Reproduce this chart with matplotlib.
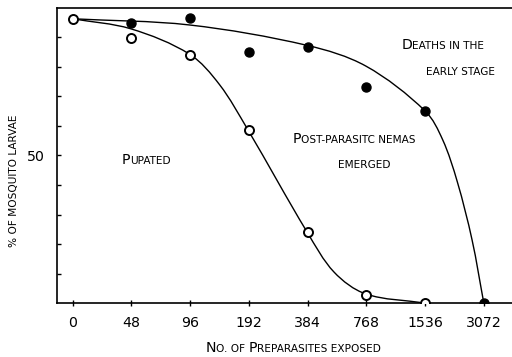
import matplotlib
matplotlib.use("Agg")
import matplotlib.pyplot as plt
import numpy as np
from matplotlib.offsetbox import TextArea, HPacker, AnnotationBbox
from matplotlib.path import Path
from matplotlib.patches import PathPatch

plt.rcParams['font.family'] = ['Liberation Sans Narrow', 'DejaVu Sans']

# categories on the x axis (equally spaced, doubling doses)
doses = ['0', '48', '96', '192', '384', '768', '1536', '3072']

# open circles: larvae that pupated (%)
pupated_x = [0, 1, 2, 3, 4, 5, 6]
pupated = [96.3, 89.8, 84.1, 58.6, 24.1, 2.7, 0.0]

# filled circles: boundary of deaths in the early stage (%)
deaths_x = [1, 2, 3, 4, 5, 6, 7]
deaths = [94.9, 96.6, 85.1, 86.8, 73.2, 65.1, 0.0]

# knots of the hand-drawn fitted curves
upper_cx = [0, 1.99, 3.99, 4.99, 6.0, 6.30, 6.55, 6.80, 7.0]
upper_cy = [96.3, 94.2, 87.3, 80.3, 65.1, 55.3, 41.0, 21.4, 0.0]
lower_cx = [0, 0.99, 1.99, 2.50, 2.98, 3.99, 4.45, 4.99, 6.0]
lower_cy = [96.3, 92.9, 84.3, 74.0, 58.8, 24.1, 10.5, 3.1, 0.0]

BIG, SMALL = 10.2, 7.6


def smooth_path(xs, ys, sx, sy):
    # chord-length Catmull-Rom knots -> cubic Bezier segments (in screen-like units)
    s = np.array([sx, sy])
    p = np.column_stack([xs, ys]).astype(float) * s
    d = np.linalg.norm(np.diff(p, axis=0), axis=1)
    n = len(p)
    m = np.zeros_like(p)
    m[0] = (p[1] - p[0]) / d[0]
    m[-1] = (p[-1] - p[-2]) / d[-1]
    for i in range(1, n - 1):
        m[i] = (p[i + 1] - p[i - 1]) / (d[i - 1] + d[i])
    verts, codes = [p[0]], [Path.MOVETO]
    for i in range(n - 1):
        verts += [p[i] + m[i] * d[i] / 3, p[i + 1] - m[i + 1] * d[i] / 3, p[i + 1]]
        codes += [Path.CURVE4] * 3
    return Path(np.array(verts) / s, codes)


def smallcaps(s, big=BIG, small=SMALL):
    # uppercase chars in s -> full capitals, everything else -> small capitals
    parts = []
    run, is_up = '', None
    for ch in s:
        up = ch.isupper()
        if is_up is None or up == is_up:
            run += ch
        else:
            parts.append((run, is_up))
            run = ch
        is_up = up
    parts.append((run, is_up))
    kids = [TextArea(t.upper(), textprops=dict(fontsize=big if u else small, color='black'))
            for t, u in parts]
    return HPacker(children=kids, align='baseline', pad=0, sep=0)


def label(ax, s, xy, coords='data', align=(0, 0.5)):
    ab = AnnotationBbox(smallcaps(s), xy, xycoords=coords, box_alignment=align,
                        frameon=False, pad=0)
    ax.add_artist(ab)


fig = plt.figure(figsize=(5.12, 3.57), dpi=100)
ax = fig.add_axes([0.111, 0.151, 0.889, 0.827])
ax.set_xlim(-0.27, 7.48)
ax.set_ylim(0, 100)

bb = ax.get_window_extent()
sx = bb.width / (7.48 + 0.27)
sy = bb.height / 100
for cx, cy in ((upper_cx, upper_cy), (lower_cx, lower_cy)):
    ax.add_patch(PathPatch(smooth_path(cx, cy, sx, sy), fc='none', ec='black',
                           lw=1.0, zorder=2))
ax.plot(deaths_x, deaths, 'o', color='black', ms=6.5, zorder=3)
ax.plot(pupated_x, pupated, 'o', mfc='white', mec='black', mew=1.4, ms=6.5, zorder=4)

ax.set_xticks(range(len(doses)))
ax.set_xticklabels(doses, fontsize=BIG)
ax.tick_params(axis='x', direction='inout', length=5, width=1.0, pad=7)

yt = list(range(10, 100, 10))
ax.set_yticks(yt)
ax.set_yticklabels(['50' if v == 50 else '' for v in yt], fontsize=BIG)
ax.tick_params(axis='y', direction='in', length=3, width=1.0, pad=9)

ax.spines['right'].set_visible(False)
for s in ('left', 'bottom', 'top'):
    ax.spines[s].set_linewidth(1.2)

label(ax, 'Deaths in the', (5.60, 87.5))
label(ax, 'early stage', (6.01, 78.3))
label(ax, 'Post-parasitc nemas', (3.75, 55.6))
label(ax, 'emerged', (4.51, 46.8))
label(ax, 'Pupated', (0.84, 48.3))

label(ax, 'No. of Preparasites exposed', (293 / 512, 1 - 348 / 357),
      coords='figure fraction', align=(0.5, 0.5))
fig.text(14 / 512, 1 - 181 / 357, '% OF MOSQUITO LARVAE', rotation=90,
         fontsize=SMALL, ha='center', va='center')

fig.savefig('out.png', dpi=100)
